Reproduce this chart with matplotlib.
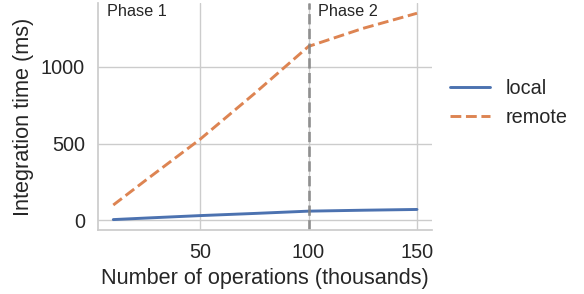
import matplotlib
matplotlib.use("Agg")
import matplotlib.pyplot as plt
import matplotlib.transforms as mtransforms
import seaborn as sns

ops_k = [10, 25, 50, 75, 100, 125, 150]
local_ms = [5, 15, 31, 45, 60, 66, 71]
remote_ms = [100, 262, 528, 825, 1133, 1250, 1349]
phase_split = 100
phase_labels = ["Phase 1", "Phase 2"]

sns.set_theme(style="whitegrid", context="notebook", font_scale=1.3)
plt.rcParams["font.family"] = ["Liberation Sans", "DejaVu Sans"]

fig = plt.figure(figsize=(5.84, 2.94), dpi=100)
ax = fig.add_axes([0.168, 0.218, 0.572, 0.772])

pal = sns.color_palette("deep")
ax.plot(ops_k, local_ms, color=pal[0], lw=2.1, label="local")
ax.plot(ops_k, remote_ms, color=pal[1], lw=2.1, ls="--", label="remote")
ax.axvline(phase_split, color="gray", ls="--", lw=2, alpha=0.8)

trans = mtransforms.blended_transform_factory(ax.transData, ax.transAxes)
ax.text(7, 0.995, phase_labels[0], transform=trans, va="top", ha="left", fontsize=11.7)
ax.text(phase_split + 4.5, 0.995, phase_labels[1], transform=trans, va="top", ha="left", fontsize=11.7)

ax.set_xticks([50, 100, 150])
ax.set_yticks([0, 500, 1000])
ax.set_xlabel("Number of operations (thousands)")
ax.set_ylabel("Integration time (ms)", labelpad=5)
sns.despine(ax=ax)

ax.legend(loc="center left", bbox_to_anchor=(1.0, 0.56), frameon=False)

fig.savefig("out.png", dpi=100)
